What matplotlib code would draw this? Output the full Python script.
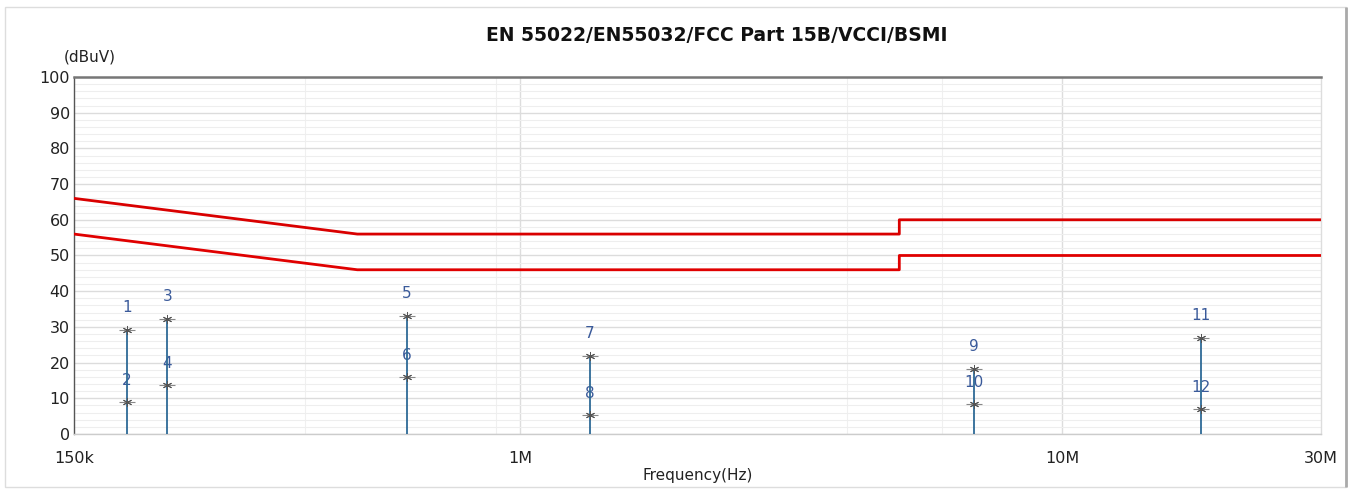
import matplotlib
matplotlib.use("Agg")
import matplotlib.pyplot as plt
from matplotlib.ticker import FixedLocator, NullFormatter
from matplotlib.patches import Rectangle

# limit lines (QP / AV), frequency in Hz
qp_freq = [150e3, 500e3, 500e3, 5e6, 5e6, 30e6]
qp_level = [66, 56, 56, 56, 60, 60]
av_freq = [150e3, 500e3, 500e3, 5e6, 5e6, 30e6]
av_level = [56, 46, 46, 46, 50, 50]

# measured points
pk_freq = [188e3, 223e3, 617e3, 1.343e6, 6.87e6, 18.0e6]
pk_level = [29.1, 32.2, 33.0, 21.8, 18.2, 26.9]
av_meas = [9.0, 13.7, 16.0, 5.3, 8.4, 7.0]
pk_labels = ["1", "3", "5", "7", "9", "11"]
av_labels = ["2", "4", "6", "8", "10", "12"]

x_ticks = [150e3, 1e6, 10e6, 30e6]
x_ticklabels = ["150k", "1M", "10M", "30M"]
y_ticks = list(range(0, 101, 10))

fig = plt.figure(figsize=(13.57, 4.9), dpi=100)
fig.patches.append(Rectangle((0.004, 0.006), 0.988, 0.98, transform=fig.transFigure,
                             fill=False, edgecolor="#dddddd", lw=1.0))
fig.patches.append(Rectangle((0.992, 0.006), 0.0, 0.98, transform=fig.transFigure,
                             fill=False, edgecolor="#aaaaaa", lw=2.0))
ax = fig.add_axes([0.0545, 0.1143, 0.919, 0.7286])

ax.set_xscale("log")
ax.set_xlim(150e3, 30e6)
ax.set_ylim(0, 100)

# grid
ax.yaxis.set_major_locator(FixedLocator(y_ticks))
ax.yaxis.set_minor_locator(FixedLocator([v for v in range(0, 101, 2) if v % 10]))
ax.xaxis.set_major_locator(FixedLocator(x_ticks))
ax.xaxis.set_minor_locator(FixedLocator([400e3, 900e3, 4e6, 6e6]))
ax.xaxis.set_minor_formatter(NullFormatter())
ax.set_xticklabels(x_ticklabels)
ax.grid(True, which="major", axis="y", color="#dcdcdc", lw=1.0)
ax.grid(True, which="minor", axis="y", color="#eeeeee", lw=0.8)
ax.grid(True, which="minor", axis="x", color="#f0f0f0", lw=0.8)
ax.grid(False, which="major", axis="x")
for xv in [1e6, 10e6]:
    ax.axvline(xv, color="#dddddd", lw=1.0, zorder=0.5)
ax.set_axisbelow(True)

ax.tick_params(which="both", length=0, labelsize=11.5, colors="#222222")
ax.tick_params(axis="x", pad=12)
ax.tick_params(axis="y", pad=3)

for s in ax.spines.values():
    s.set_linewidth(1.0)
ax.spines["top"].set_color("#777777")
ax.spines["top"].set_linewidth(1.8)
ax.spines["left"].set_color("#555555")
ax.spines["bottom"].set_color("#cccccc")
ax.spines["right"].set_color("#dddddd")

# limits
ax.plot(qp_freq, qp_level, color="#d90000", lw=2.0, zorder=3)
ax.plot(av_freq, av_level, color="#e00000", lw=2.0, zorder=3)

# stems + markers
stem_col = "#2e6a96"
for f, p, a, lp, la in zip(pk_freq, pk_level, av_meas, pk_labels, av_labels):
    ax.vlines(f, 0, p, color=stem_col, lw=1.3, zorder=4)
    ax.plot([f, f], [p, a], linestyle="none", marker="_", ms=11,
            mec="#888888", mew=0.8, zorder=5)
    ax.plot([f, f], [p, a], linestyle="none", marker=(6, 2, 0), ms=6.5,
            mec="#555555", mew=0.7, zorder=6)
    ax.annotate(lp, (f, p), xytext=(0, 11), textcoords="offset points",
                ha="center", va="bottom", fontsize=11, color="#3a5a9a")
    ax.annotate(la, (f, a), xytext=(0, 10), textcoords="offset points",
                ha="center", va="bottom", fontsize=11, color="#3a5a9a")

ax.set_xlabel("Frequency(Hz)", fontsize=11, color="#222222", labelpad=2)
fig.text(0.047, 0.883, "(dBuV)", fontsize=11, color="#222222", ha="left", va="center")
fig.text(0.528, 0.928, "EN 55022/EN55032/FCC Part 15B/VCCI/BSMI", fontsize=13.5,
         fontweight="bold", color="#111111", ha="center", va="center")

fig.savefig("out.png", dpi=100, facecolor="white")
